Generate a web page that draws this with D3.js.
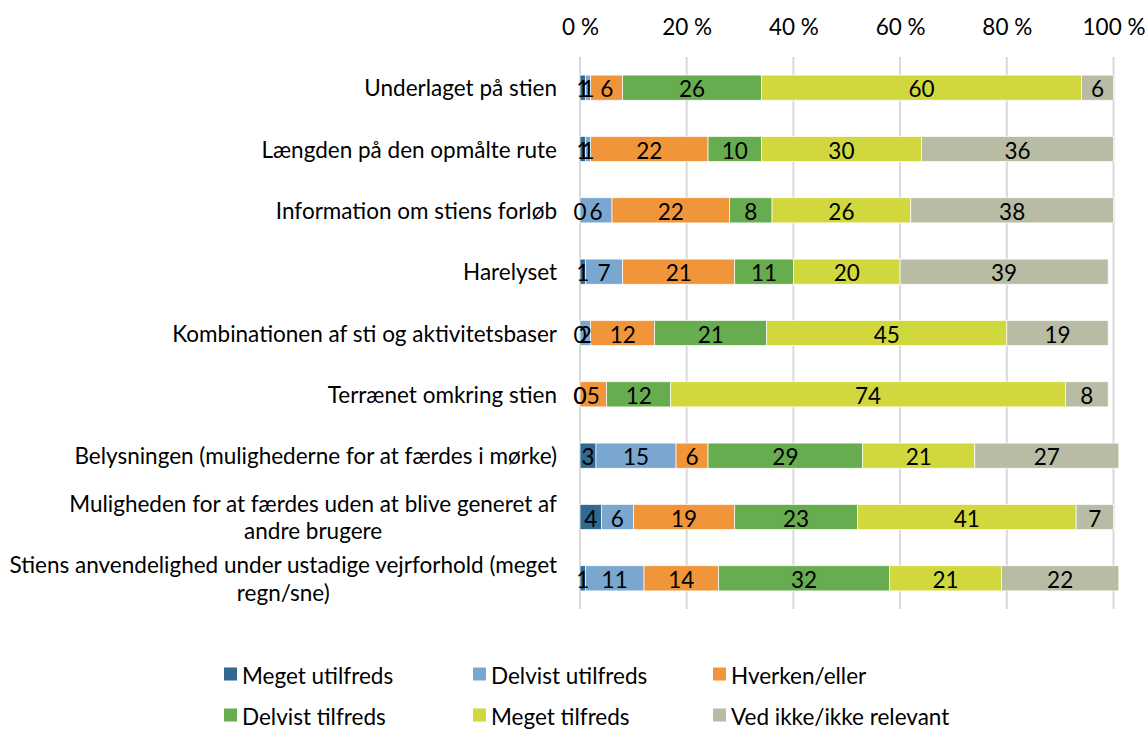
<!DOCTYPE html>
<html>
<head>
<meta charset="utf-8">
<style>
    body {
        margin: 0;
        background: white;
        font-family: Lato, "Open Sans", sans-serif;
    }
    svg text {
        fill: #000;
    }
</style>
<script src="https://cdn.jsdelivr.net/npm/d3@7"></script>
</head>
<body>
<svg id="chart"></svg>
<script>
    // questions (top to bottom), line breaks as in the original
    let categories = [
        ["Underlaget på stien"],
        ["Længden på den opmålte rute"],
        ["Information om stiens forløb"],
        ["Harelyset"],
        ["Kombinationen af sti og aktivitetsbaser"],
        ["Terrænet omkring stien"],
        ["Belysningen (mulighederne for at færdes i mørke)"],
        ["Muligheden for at færdes uden at blive generet af", "andre brugere"],
        ["Stiens anvendelighed under ustadige vejrforhold (meget", "regn/sne)"]
    ]

    let seriesNames = ["Meget utilfreds", "Delvist utilfreds", "Hverken/eller",
                       "Delvist tilfreds", "Meget tilfreds", "Ved ikke/ikke relevant"]
    let seriesColors = ["#31698f", "#7aa7d0", "#f0953a", "#67ac4e", "#d1d83e", "#b9bca4"]

    // percent values per series, one entry per question
    let megetUtilfreds   = [1, 1, 0, 1, 0, 0, 3, 4, 1]
    let delvistUtilfreds = [1, 1, 6, 7, 2, 0, 15, 6, 11]
    let hverkenEller     = [6, 22, 22, 21, 12, 5, 6, 19, 14]
    let delvistTilfreds  = [26, 10, 8, 11, 21, 12, 29, 23, 32]
    let megetTilfreds    = [60, 30, 26, 20, 45, 74, 21, 41, 21]
    let vedIkke          = [6, 36, 38, 39, 19, 8, 27, 7, 22]

    let tickValues = [0, 20, 40, 60, 80, 100]

    let fontSize = "22.5px"
    let width = 1146, height = 729
    let svg = d3.select("#chart").attr("width", width).attr("height", height)

    let x = d3.scaleLinear().domain([0, 100]).range([580, 1113.5])
    let y = d3.scaleBand().domain(d3.range(categories.length)).range([57, 609])
        .paddingInner(0.59).paddingOuter(0.295)

    let allSeries = [megetUtilfreds, delvistUtilfreds, hverkenEller, delvistTilfreds, megetTilfreds, vedIkke]

    // table for the stack layout
    let table = categories.map((c, i) => {
        let row = {idx: i}
        seriesNames.forEach((s, j) => { row[s] = allSeries[j][i] })
        return row
    })
    let stacked = d3.stack().keys(seriesNames)(table)

    // gridlines
    svg.append("g").selectAll("line")
        .data(tickValues)
        .enter().append("line")
        .attr("x1", d => x(d)).attr("x2", d => x(d))
        .attr("y1", 57).attr("y2", 609)
        .attr("stroke", "#d9d9d9")
        .attr("stroke-width", 2)

    // top axis labels
    let xAxis = d3.axisTop(x).tickValues(tickValues).tickSize(0).tickPadding(0)
        .tickFormat(d => d + " %")
    let axisG = svg.append("g").attr("transform", "translate(0,35)").call(xAxis)
    axisG.select(".domain").remove()
    axisG.selectAll("text")
        .style("font-family", "Lato, sans-serif")
        .style("font-size", fontSize)
        .attr("fill", "#000")

    // bars
    let layers = svg.append("g").selectAll("g")
        .data(stacked)
        .enter().append("g")
        .attr("fill", (d, i) => seriesColors[i])

    layers.selectAll("rect")
        .data(d => d)
        .enter().append("rect")
        .attr("x", d => x(d[0]))
        .attr("y", d => y(d.data.idx))
        .attr("width", d => x(d[1]) - x(d[0]))
        .attr("height", y.bandwidth())
        .attr("stroke", "white")
        .attr("stroke-width", 0.7)

    // value labels
    let labels = svg.append("g")
    stacked.forEach(layer => {
        layer.forEach(d => {
            labels.append("text")
                .attr("x", x((d[0] + d[1]) / 2))
                .attr("y", y(d.data.idx) + y.bandwidth() / 2 + 1)
                .attr("text-anchor", "middle")
                .attr("dominant-baseline", "central")
                .style("font-size", fontSize)
                .text(d[1] - d[0])
        })
    })

    // category labels, multi-line ones centered as a block
    let catG = svg.append("g")
    categories.forEach((lines, i) => {
        let cy = y(i) + y.bandwidth() / 2
        let lineH = 27.5
        let g = catG.append("g")
        let texts = lines.map((line, k) => g.append("text")
            .attr("y", cy + (k - (lines.length - 1) / 2) * lineH)
            .attr("dominant-baseline", "central")
            .style("font-size", fontSize)
            .text(line))
        let maxW = d3.max(texts, t => t.node().getComputedTextLength())
        texts.forEach(t => {
            t.attr("x", 557 - maxW / 2).attr("text-anchor", "middle")
        })
    })

    // legend
    let legendX = [224, 473, 713]
    let legendY = [674, 715]
    let legend = svg.append("g").selectAll("g")
        .data(seriesNames)
        .enter().append("g")
        .attr("transform", (d, i) => `translate(${legendX[i % 3]},${legendY[Math.floor(i / 3)]})`)

    legend.append("rect")
        .attr("x", 0).attr("y", -6.5)
        .attr("width", 13).attr("height", 13)
        .attr("fill", (d, i) => seriesColors[i])

    legend.append("text")
        .attr("x", 18)
        .attr("y", 1)
        .attr("dominant-baseline", "central")
        .style("font-size", fontSize)
        .text(d => d)
</script>
</body>
</html>
